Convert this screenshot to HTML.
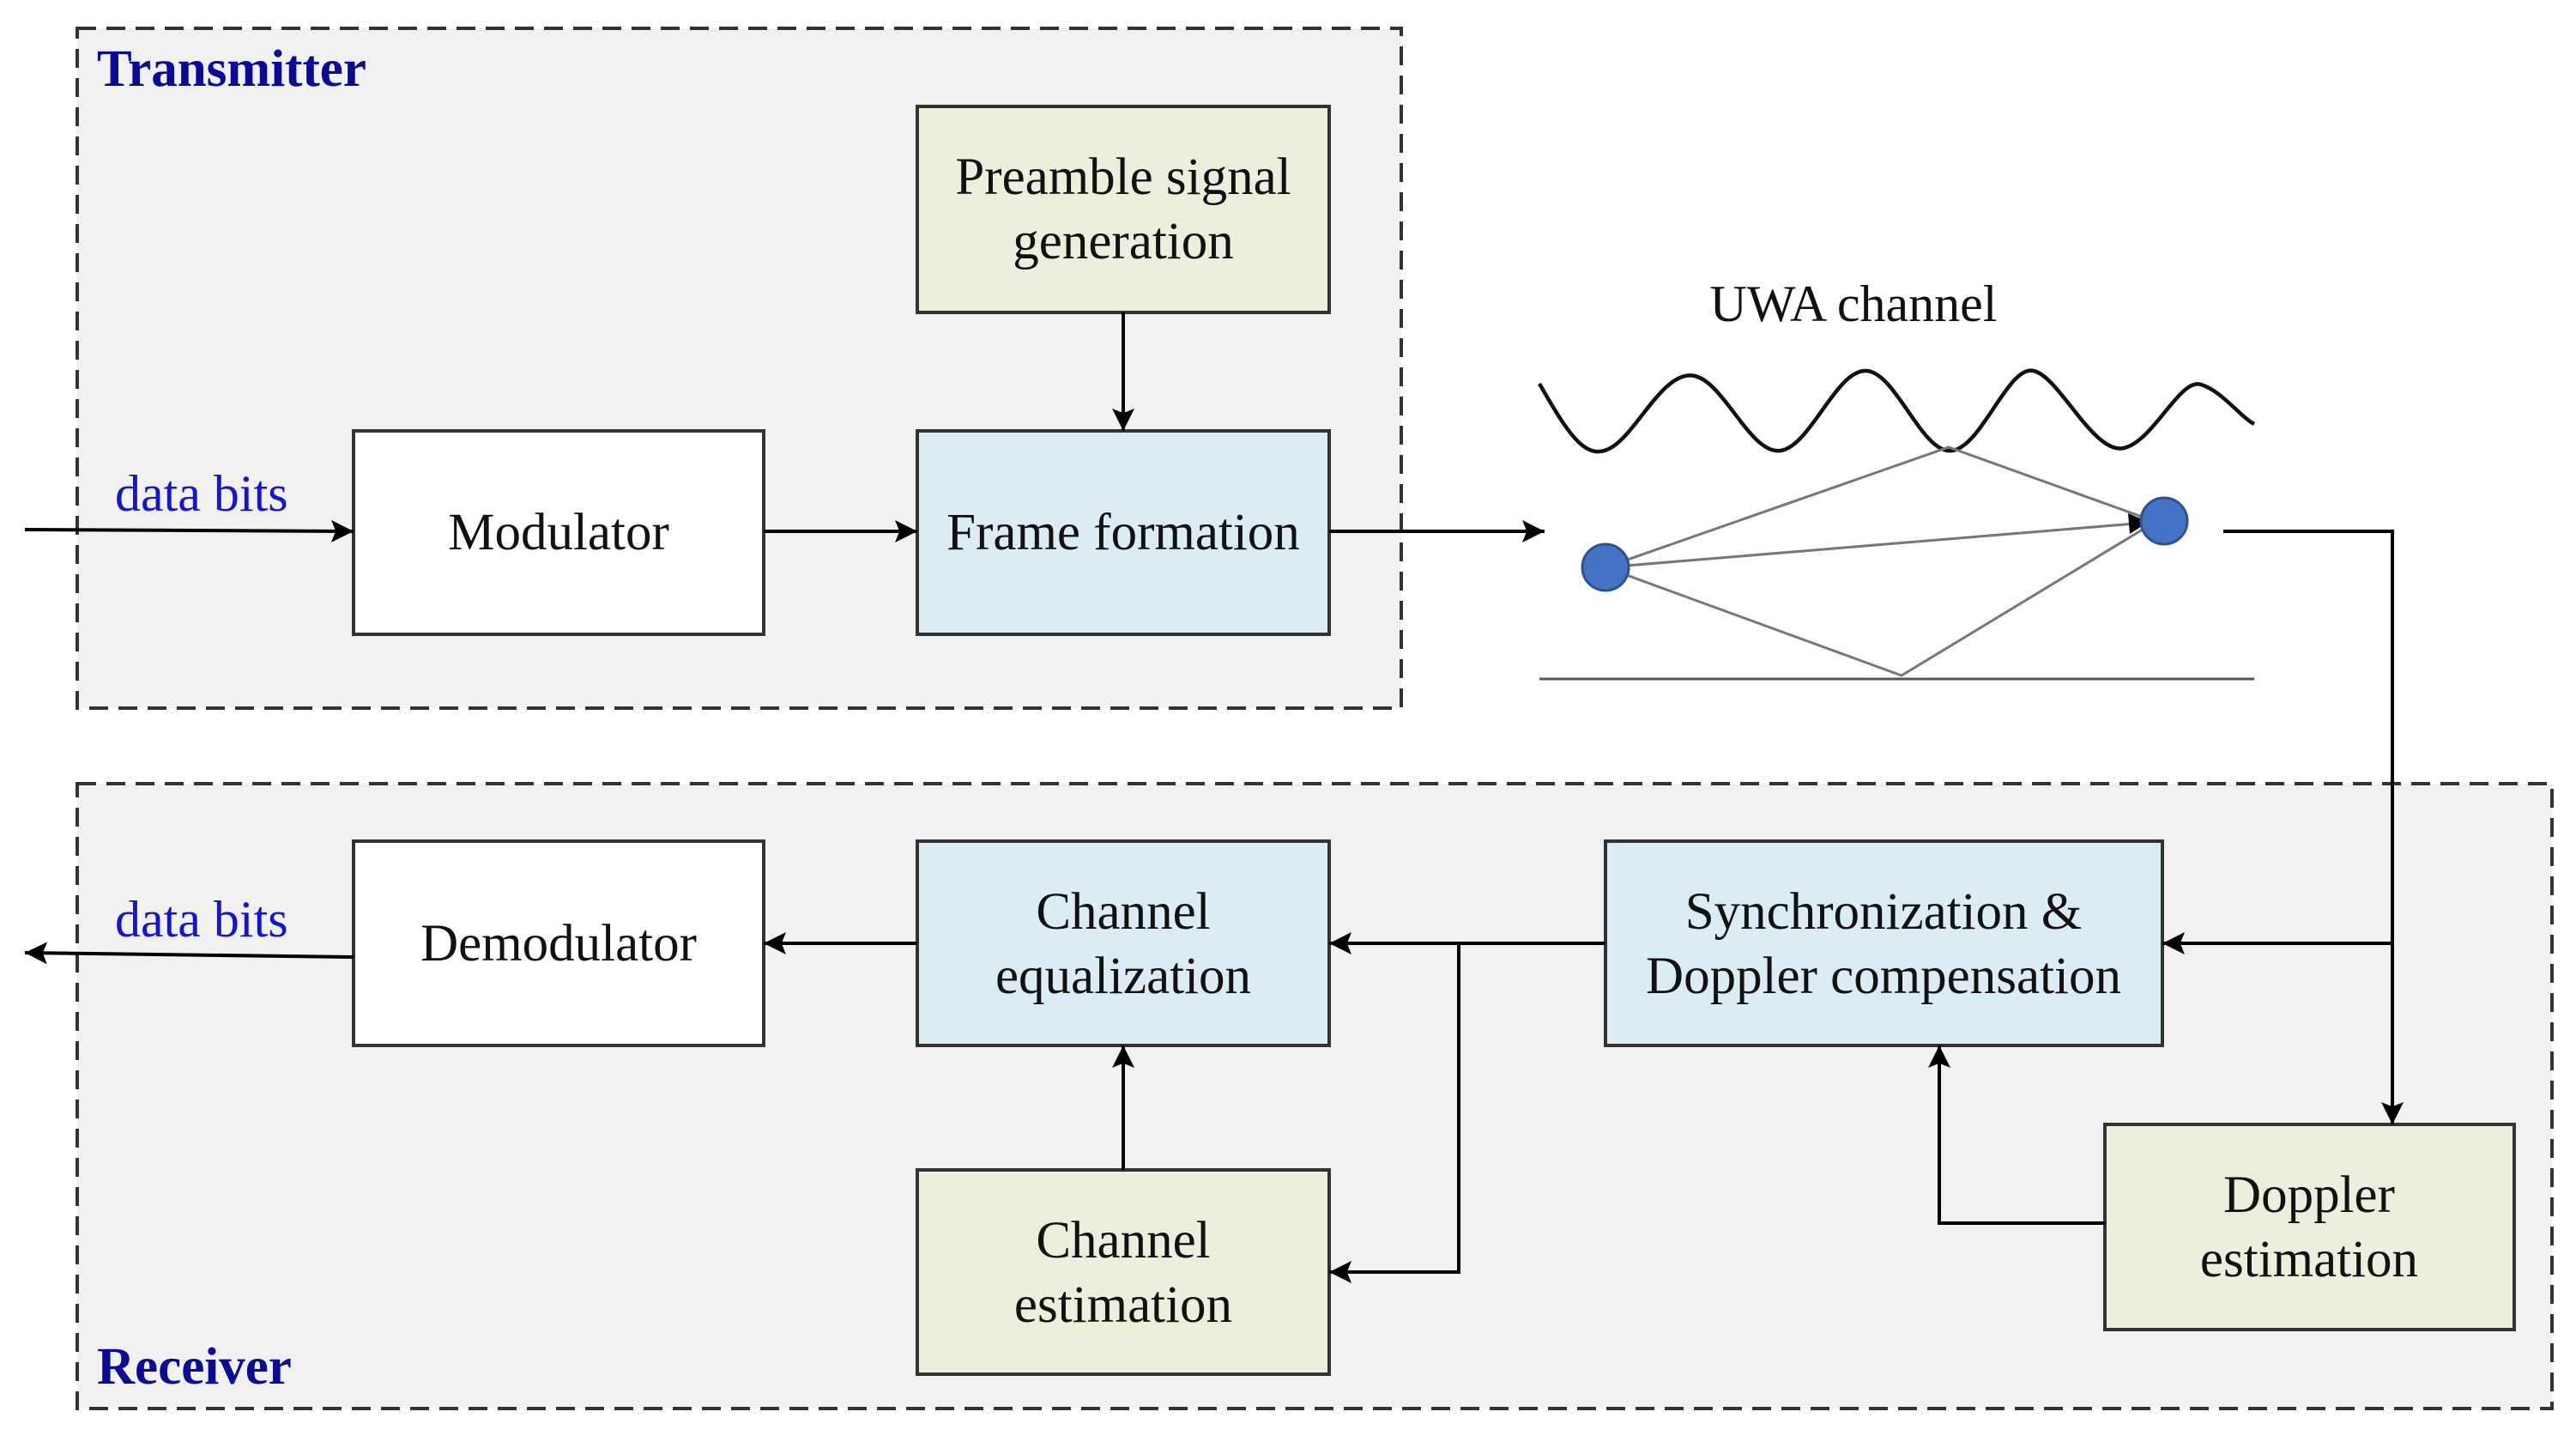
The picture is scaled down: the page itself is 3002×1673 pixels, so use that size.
<!DOCTYPE html>
<html><head><meta charset="utf-8"><style>
html,body{margin:0;padding:0;background:#fff;}
svg{display:block;}
text{font-family:"Liberation Serif",serif;}
</style></head><body>
<svg width="3002" height="1673" viewBox="0 0 3002 1673" xmlns="http://www.w3.org/2000/svg">
<defs>
<marker id="a" viewBox="0 0 10 10" refX="10" refY="5" markerWidth="28" markerHeight="26" markerUnits="userSpaceOnUse" orient="auto">
<path d="M0,0 L10,5 L0,10 L2,5 Z" fill="#000"/></marker>
</defs>
<rect x="90" y="33" width="1543" height="792" fill="#f1f1f1" stroke="#333" stroke-width="4" stroke-dasharray="22,12"/>
<rect x="90" y="913" width="2884" height="728" fill="#f1f1f1" stroke="#333" stroke-width="4" stroke-dasharray="22,12"/>
<text x="113" y="100" font-size="61" font-weight="bold" fill="#0a0a96">Transmitter</text>
<text x="113" y="1612" font-size="61" font-weight="bold" fill="#0a0a96">Receiver</text>

<g stroke="#333" stroke-width="4">
<rect x="1069" y="124" width="480" height="240" fill="#eaf0dc"/>
<rect x="412" y="502" width="478" height="237" fill="#fff"/>
<rect x="1069" y="502" width="480" height="237" fill="#dbecf4"/>
<rect x="412" y="980" width="478" height="238" fill="#fff"/>
<rect x="1069" y="980" width="480" height="238" fill="#dbecf4"/>
<rect x="1069" y="1363" width="480" height="238" fill="#eaf0dc"/>
<rect x="1871" y="980" width="649" height="238" fill="#dbecf4"/>
<rect x="2453" y="1310" width="477" height="239" fill="#eaf0dc"/>
</g>
<g font-size="61" fill="#111" text-anchor="middle">
<text x="1309" y="226">Preamble signal</text>
<text x="1309" y="301">generation</text>
<text x="651" y="640">Modulator</text>
<text x="1309" y="640">Frame formation</text>
<text x="651" y="1119">Demodulator</text>
<text x="1309" y="1082">Channel</text>
<text x="1309" y="1157">equalization</text>
<text x="1309" y="1465">Channel</text>
<text x="1309" y="1540">estimation</text>
<text x="2195" y="1082">Synchronization &amp;</text>
<text x="2195" y="1157">Doppler compensation</text>
<text x="2691" y="1412">Doppler</text>
<text x="2691" y="1487">estimation</text>
<text x="2160" y="374" font-size="60">UWA channel</text>
</g>
<g font-size="60" fill="#1515d0">
<text x="134" y="595">data bits</text>
<text x="134" y="1091">data bits</text>
</g>

<g stroke="#000" stroke-width="4" fill="none">
<line x1="29" y1="617" x2="412" y2="619" marker-end="url(#a)"/>
<line x1="890" y1="619" x2="1069" y2="619" marker-end="url(#a)"/>
<line x1="1309" y1="364" x2="1309" y2="502" marker-end="url(#a)"/>
<line x1="1549" y1="619" x2="1800" y2="619" marker-end="url(#a)"/>
<polyline points="2591,619 2788,619 2788,1310" marker-end="url(#a)"/>
<line x1="2788" y1="1099" x2="2520" y2="1099" marker-end="url(#a)"/>
<line x1="1871" y1="1099" x2="1549" y2="1099" marker-end="url(#a)"/>
<polyline points="1700,1099 1700,1482 1549,1482" marker-end="url(#a)"/>
<line x1="1309" y1="1363" x2="1309" y2="1218" marker-end="url(#a)"/>
<line x1="1069" y1="1099" x2="890" y2="1099" marker-end="url(#a)"/>
<line x1="412" y1="1115" x2="29" y2="1110" marker-end="url(#a)"/>
<polyline points="2453,1425 2260,1425 2260,1218" marker-end="url(#a)"/>
</g>

<path d="M1794,447 C1830,510 1850,540 1880,520 S1940,430 1975,438 S2040,530 2075,525 S2140,430 2175,432 S2240,530 2275,525 S2340,425 2370,432 S2440,530 2475,522 S2540,440 2565,448 S2610,485 2627,494" stroke="#111" stroke-width="4.5" fill="none"/>
<line x1="1794" y1="791" x2="2627" y2="791" stroke="#555" stroke-width="3"/>
<g stroke="#777" stroke-width="3" fill="none">
<polyline points="1871,661 2271,521 2510,607"/>
<polyline points="1871,661 2216,787 2505,612"/>
<line x1="1871" y1="661" x2="2500" y2="609"/>
</g>
<path d="M2480,598 L2504,608 L2482,622 Z" fill="#000"/>
<circle cx="1871" cy="661" r="27" fill="#4472c4" stroke="#2f528f" stroke-width="3"/>
<circle cx="2522" cy="607" r="27" fill="#4472c4" stroke="#2f528f" stroke-width="3"/>
</svg>
</body></html>
